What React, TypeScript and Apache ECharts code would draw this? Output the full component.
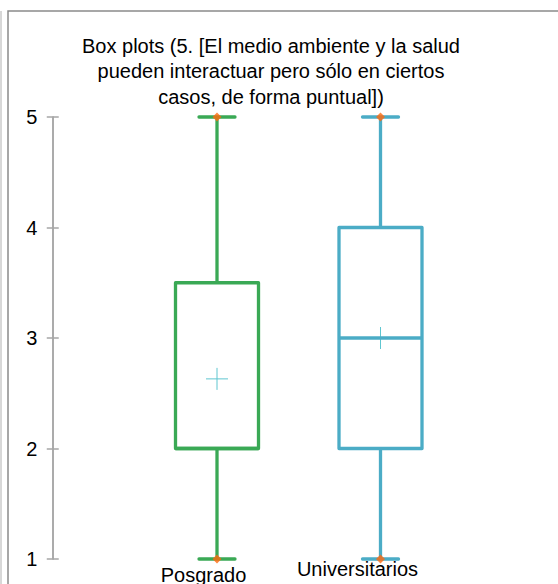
import React, { useEffect, useRef } from "react";
import * as echarts from "echarts";

const categories = ["Posgrado", "Universitarios"];
const minimums = [1, 1];
const firstQuartiles = [2, 2];
const medians = [2, 3];
const thirdQuartiles = [3.5, 4];
const maximums = [5, 5];
const means = [2.63, 3];
const boxColors = ["#3aa955", "#4bacc6"];
const titleText =
  "Box plots (5. [El medio ambiente y la salud\npueden interactuar pero sólo en ciertos\ncasos, de forma puntual])";

const FONT = "'Liberation Sans', Arial, sans-serif";

export default function App() {
  const ref = useRef<HTMLDivElement>(null);
  useEffect(() => {
    if (!ref.current) return;
    const chart = echarts.init(ref.current, null, { renderer: "svg" });
    const boxData = categories.map((_, i) => [
      i,
      minimums[i],
      firstQuartiles[i],
      medians[i],
      thirdQuartiles[i],
      maximums[i],
      means[i],
    ]);
    const extremes: number[][] = [];
    categories.forEach((_, i) => {
      extremes.push([i, minimums[i]]);
      extremes.push([i, maximums[i]]);
    });
    const option: any = {
      animation: false,
      backgroundColor: "#ffffff",
      title: {
        text: titleText,
        left: 271,
        textAlign: "center",
        top: 33,
        padding: 0,
        textStyle: {
          fontFamily: FONT,
          fontSize: 20,
          fontWeight: "normal",
          color: "#000",
          lineHeight: 25.5,
        },
      },
      graphic: [
        {
          type: "line",
          shape: { x1: 1, y1: 11, x2: 1, y2: 584 },
          style: { stroke: "#b0b0b0", lineWidth: 1 },
          silent: true,
        },
        {
          type: "rect",
          shape: { x: 8, y: 11, width: 700, height: 700 },
          style: { fill: "none", stroke: "#8a8a8a", lineWidth: 1.5 },
          silent: true,
        },
      ],
      grid: {
        left: 135.25,
        right: 95.75,
        top: 117,
        bottom: 25,
        outerBoundsMode: "none",
      },
      xAxis: {
        type: "category",
        data: categories,
        axisLine: { show: false },
        axisTick: { show: false },
        splitLine: { show: false },
        axisLabel: {
          interval: 0,
          margin: 0,
          formatter: (v: string) => (v === "Posgrado" ? `{a|${v}}` : `{b|${v}}`),
          rich: {
            a: {
              fontFamily: FONT,
              fontSize: 20,
              color: "#000",
              padding: [6, 27, 0, 0],
            },
            b: {
              fontFamily: FONT,
              fontSize: 20,
              color: "#000",
              padding: [0, 46, 0, 0],
            },
          },
        },
      },
      yAxis: [
        {
          type: "value",
          min: 1,
          max: 5,
          interval: 1,
          position: "left",
          offset: 83,
          axisLine: { show: true, lineStyle: { color: "#a6a6a6", width: 1.5 } },
          axisTick: { show: true, inside: true, length: 6.5, lineStyle: { color: "#a6a6a6", width: 1.5 } },
          splitLine: { show: false },
          axisLabel: { margin: 15, fontFamily: FONT, fontSize: 20, color: "#000" },
        },
        {
          type: "value",
          min: 1,
          max: 5,
          interval: 1,
          position: "left",
          offset: 83,
          axisLine: { show: true, lineStyle: { color: "#a6a6a6", width: 1.5 } },
          axisTick: { show: true, inside: false, length: 5.5, lineStyle: { color: "#a6a6a6", width: 1.5 } },
          splitLine: { show: false },
          axisLabel: { show: false },
        },
      ],
      series: [
        {
          type: "custom",
          name: "boxes",
          data: boxData,
          encode: { x: 0, y: [1, 2, 3, 4, 5, 6] },
          clip: false,
          renderItem: (params: any, api: any) => {
            const idx = api.value(0);
            const color = boxColors[params.dataIndex % boxColors.length];
            const pMin = api.coord([idx, api.value(1)]);
            const cx = pMin[0];
            const yMin = pMin[1];
            const yQ1 = api.coord([idx, api.value(2)])[1];
            const yMed = api.coord([idx, api.value(3)])[1];
            const yQ3 = api.coord([idx, api.value(4)])[1];
            const yMax = api.coord([idx, api.value(5)])[1];
            const yMean = api.coord([idx, api.value(6)])[1];
            const bw = 83;
            const cw = 36;
            const lw = 3.3;
            const st = { stroke: color, lineWidth: lw, fill: "none" };
            const capStyle = { stroke: color, lineWidth: lw, lineCap: "round" };
            const meanStyle = { stroke: "#5fc6d0", lineWidth: 1 };
            return {
              type: "group",
              children: [
                { type: "line", shape: { x1: cx, y1: yMin, x2: cx, y2: yQ1 }, style: st },
                { type: "line", shape: { x1: cx, y1: yQ3, x2: cx, y2: yMax }, style: st },
                { type: "line", shape: { x1: cx - cw / 2, y1: yMin, x2: cx + cw / 2, y2: yMin }, style: capStyle },
                { type: "line", shape: { x1: cx - cw / 2, y1: yMax, x2: cx + cw / 2, y2: yMax }, style: capStyle },
                { type: "line", shape: { x1: cx - 11, y1: yMean, x2: cx + 11, y2: yMean }, style: meanStyle },
                { type: "line", shape: { x1: cx, y1: yMean - 11, x2: cx, y2: yMean + 11 }, style: meanStyle },
                {
                  type: "rect",
                  shape: { x: cx - bw / 2, y: yQ3, width: bw, height: yQ1 - yQ3 },
                  style: { stroke: color, lineWidth: lw, fill: "none", lineJoin: "round" },
                },
                { type: "line", shape: { x1: cx - bw / 2, y1: yMed, x2: cx + bw / 2, y2: yMed }, style: st },
              ],
            };
          },
        },
        {
          type: "scatter",
          name: "extremes",
          data: extremes,
          symbol: "diamond",
          symbolSize: [9, 9],
          itemStyle: { color: "#ff6a0e" },
          z: 5,
        },
      ],
    };
    chart.setOption(option);
    return () => chart.dispose();
  }, []);
  return (
    <div
      ref={ref}
      style={{ position: "fixed", left: 0, top: 0, width: 558, height: 584, background: "#fff" }}
    />
  );
}
